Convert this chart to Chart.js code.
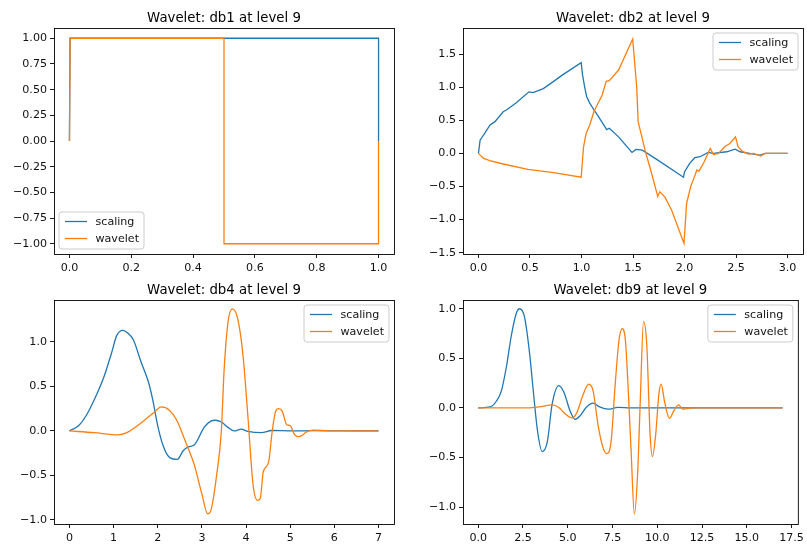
<!DOCTYPE html>
<html><head><meta charset="utf-8">
<script src="https://cdn.jsdelivr.net/npm/chart.js@4"></script>
<style>
html,body{margin:0;padding:0;background:#fff;}
body{width:807px;height:545px;position:relative;overflow:hidden;}
canvas{position:absolute;}
</style></head><body>
<canvas id="c1" width="400" height="272" style="left:0;top:0;width:400px;height:272px"></canvas>
<canvas id="c2" width="407" height="272" style="left:400px;top:0;width:407px;height:272px"></canvas>
<canvas id="c3" width="400" height="273" style="left:0;top:272px;width:400px;height:273px"></canvas>
<canvas id="c4" width="407" height="273" style="left:400px;top:272px;width:407px;height:273px"></canvas>
<script>
// ---------- data (x, y) ----------
const seriesNames = ["scaling", "wavelet"];
const titles = ["Wavelet: db1 at level 9", "Wavelet: db2 at level 9", "Wavelet: db4 at level 9", "Wavelet: db9 at level 9"];

const db1Scaling = [[0,0],[0.002,1],[1,1],[1,0]];
const db1Wavelet = [[0,0],[0.002,1],[0.5,1],[0.5,-1],[1,-1],[1,0]];

const db2Scaling = [[0,0],[0.016,0.2],[0.055,0.29],[0.113,0.43],[0.16,0.48],[0.24,0.63],[0.275,0.66],[0.37,0.77],[0.49,0.93],[0.53,0.92],[0.63,0.98],[0.74,1.10],[0.82,1.19],[0.997,1.37],[1.01,1.19],[1.03,1.01],[1.05,0.86],[1.08,0.76],[1.12,0.66],[1.165,0.555],[1.245,0.36],[1.27,0.38],[1.36,0.25],[1.49,0.015],[1.53,0.06],[1.59,0.05],[1.73,-0.09],[1.99,-0.36],[2.0,-0.28],[2.05,-0.15],[2.1,-0.065],[2.15,-0.05],[2.23,0.015],[2.28,0],[2.41,0.025],[2.49,0.065],[2.54,0.025],[2.63,0],[2.73,-0.025],[2.79,0],[3,0]];
const db2Wavelet = [[0,0],[0.05,-0.076],[0.11,-0.11],[0.24,-0.16],[0.48,-0.24],[0.73,-0.29],[0.997,-0.36],[1.02,0.10],[1.045,0.30],[1.08,0.43],[1.12,0.63],[1.2,0.88],[1.24,1.09],[1.27,1.10],[1.36,1.26],[1.497,1.73],[1.536,1.0],[1.55,0.48],[1.62,0.03],[1.68,-0.30],[1.74,-0.65],[1.76,-0.58],[1.81,-0.66],[1.875,-0.86],[1.995,-1.36],[2.02,-0.76],[2.06,-0.50],[2.085,-0.40],[2.12,-0.25],[2.14,-0.27],[2.19,-0.13],[2.25,0.076],[2.28,-0.015],[2.33,0],[2.39,0.10],[2.44,0.15],[2.495,0.25],[2.52,0.10],[2.56,0.035],[2.62,-0.01],[2.67,0],[2.74,-0.04],[2.78,0],[3,0]];

const db4Scaling = [[0,0],[0.21,0.06],[0.40,0.19],[0.59,0.38],[0.79,0.62],[0.95,0.87],[1.07,1.07],[1.21,1.13],[1.34,1.09],[1.45,1.02],[1.61,0.79],[1.80,0.53],[1.89,0.34],[1.99,0.08],[2.11,-0.15],[2.27,-0.30],[2.44,-0.32],[2.58,-0.22],[2.69,-0.18],[2.83,-0.155],[3.05,0.04],[3.2,0.11],[3.31,0.12],[3.44,0.10],[3.59,0.04],[3.73,0],[3.89,0.02],[4.04,-0.005],[4.35,-0.02],[4.58,0.005],[5.05,0],[5.5,0.003],[7,0]];
const db4Wavelet = [[0,0],[0.56,-0.02],[1.1,-0.045],[1.3,-0.02],[1.65,0.1],[1.92,0.21],[2.08,0.27],[2.27,0.23],[2.43,0.12],[2.62,-0.11],[2.82,-0.37],[3.0,-0.71],[3.13,-0.93],[3.21,-0.88],[3.34,-0.47],[3.44,0],[3.5,0.66],[3.59,1.22],[3.69,1.37],[3.81,1.26],[3.93,0.85],[4.04,0.17],[4.16,-0.61],[4.26,-0.78],[4.32,-0.76],[4.39,-0.46],[4.51,-0.35],[4.59,-0.01],[4.67,0.22],[4.74,0.25],[4.82,0.22],[4.92,0.07],[5.0,0.06],[5.09,-0.035],[5.18,-0.065],[5.27,-0.05],[5.37,-0.01],[5.52,0.01],[5.9,0],[7,0]];

const db9Scaling = [[0,0],[0.66,0.01],[1.02,0.07],[1.29,0.17],[1.57,0.41],[1.84,0.72],[2.12,0.95],[2.3,1.0],[2.58,0.92],[2.85,0.58],[3.13,0.07],[3.31,-0.23],[3.57,-0.44],[3.86,-0.34],[4.13,0.04],[4.5,0.225],[4.78,0.16],[5.13,-0.03],[5.41,-0.115],[5.68,-0.08],[6.05,0.01],[6.42,0.048],[6.78,0.01],[7.26,-0.013],[7.8,0.005],[8.5,0],[17,0]];
const db9Wavelet = [[0,0],[2.85,0],[3.4,0.01],[4.13,0.03],[4.5,0.005],[4.86,-0.06],[5.23,-0.10],[5.5,-0.05],[5.87,0.14],[6.17,0.24],[6.42,0.17],[6.69,-0.17],[6.97,-0.40],[7.18,-0.46],[7.42,-0.34],[7.65,0.24],[7.86,0.68],[8.04,0.80],[8.22,0.68],[8.4,0.1],[8.54,-0.44],[8.72,-1.07],[8.9,-0.67],[9.05,0.07],[9.23,0.87],[9.41,0.65],[9.6,-0.27],[9.73,-0.49],[9.91,-0.27],[10.09,0.14],[10.22,0.24],[10.4,0.07],[10.68,-0.105],[10.92,-0.03],[11.19,0.03],[11.43,-0.013],[11.74,-0.003],[12.01,0],[17,0]];

// ---------- ticks ----------
const xTicks1 = [0,0.2,0.4,0.6,0.8,1.0];
const xLabels1 = ["0.0","0.2","0.4","0.6","0.8","1.0"];
const yTicks1 = [-1,-0.75,-0.5,-0.25,0,0.25,0.5,0.75,1];
const yLabels1 = ["\u22121.00","\u22120.75","\u22120.50","\u22120.25","0.00","0.25","0.50","0.75","1.00"];

const xTicks2 = [0,0.5,1,1.5,2,2.5,3];
const xLabels2 = ["0.0","0.5","1.0","1.5","2.0","2.5","3.0"];
const yTicks2 = [-1.5,-1,-0.5,0,0.5,1,1.5];
const yLabels2 = ["\u22121.5","\u22121.0","\u22120.5","0.0","0.5","1.0","1.5"];

const xTicks3 = [0,1,2,3,4,5,6,7];
const xLabels3 = ["0","1","2","3","4","5","6","7"];
const yTicks3 = [-1,-0.5,0,0.5,1];
const yLabels3 = ["\u22121.0","\u22120.5","0.0","0.5","1.0"];

const xTicks4 = [0,2.5,5,7.5,10,12.5,15,17.5];
const xLabels4 = ["0.0","2.5","5.0","7.5","10.0","12.5","15.0","17.5"];
const yTicks4 = [-1,-0.5,0,0.5,1];
const yLabels4 = ["\u22121.0","\u22120.5","0.0","0.5","1.0"];

// ---------- panels ----------
const panels = [
  {id:"c1", title:titles[0], s:db1Scaling, w:db1Wavelet, xt:xTicks1, xl:xLabels1, yt:yTicks1, yl:yLabels1,
   xr:[-0.05,1.05], yr:[-1.1,1.1], area:{left:54,top:28,right:6,bottom:18}, legend:"ll", smooth:false},
  {id:"c2", title:titles[1], s:db2Scaling, w:db2Wavelet, xt:xTicks2, xl:xLabels2, yt:yTicks2, yl:yLabels2,
   xr:[-0.15,3.15], yr:[-1.52,1.895], area:{left:63,top:28,right:4,bottom:18}, legend:"ur", smooth:false},
  {id:"c3", title:titles[2], s:db4Scaling, w:db4Wavelet, xt:xTicks3, xl:xLabels3, yt:yTicks3, yl:yLabels3,
   xr:[-0.35,7.35], yr:[-1.045,1.47], area:{left:54,top:28,right:6,bottom:21}, legend:"ur", smooth:true},
  {id:"c4", title:titles[3], s:db9Scaling, w:db9Wavelet, xt:xTicks4, xl:xLabels4, yt:yTicks4, yl:yLabels4,
   xr:[-0.85,17.85], yr:[-1.17,1.088], area:{left:63,top:28,right:4,bottom:21}, legend:"ur", smooth:true}
];

const COLORS = ["#1f77b4", "#ff7f0e"];
const FONT = '"DejaVu Sans", sans-serif';
const TICK_PX = 11.1, TITLE_PX = 13.3;

const framePlugin = {
  id: "frame",
  afterDraw(chart, args, o) {
    const a = chart.chartArea, ctx = chart.ctx;
    ctx.save();
    ctx.strokeStyle = "#000"; ctx.lineWidth = 0.9;
    ctx.strokeRect(a.left + 0.5, a.top + 0.5, a.right - a.left, a.bottom - a.top);
    ctx.fillStyle = "#000";
    ctx.font = TITLE_PX + "px " + FONT;
    ctx.textAlign = "center"; ctx.textBaseline = "alphabetic";
    ctx.fillText(o.title, (a.left + a.right) / 2, a.top - 6.5);
    // legend
    const w = 85, h = 37;
    const bx = o.legend === "ll" ? a.left + 5 : a.right - 5 - w;
    const by = o.legend === "ll" ? a.bottom - 5 - h : a.top + 5;
    const r = 3;
    ctx.beginPath();
    ctx.moveTo(bx + r, by); ctx.lineTo(bx + w - r, by); ctx.arcTo(bx + w, by, bx + w, by + r, r);
    ctx.lineTo(bx + w, by + h - r); ctx.arcTo(bx + w, by + h, bx + w - r, by + h, r);
    ctx.lineTo(bx + r, by + h); ctx.arcTo(bx, by + h, bx, by + h - r, r);
    ctx.lineTo(bx, by + r); ctx.arcTo(bx, by, bx + r, by, r);
    ctx.closePath();
    ctx.fillStyle = "rgba(255,255,255,0.8)"; ctx.fill();
    ctx.strokeStyle = "#cccccc"; ctx.lineWidth = 1; ctx.stroke();
    ctx.font = TICK_PX + "px " + FONT; ctx.textAlign = "left"; ctx.textBaseline = "middle";
    seriesNames.forEach((n, i) => {
      const y = by + 9.5 + i * 17;
      ctx.strokeStyle = COLORS[i]; ctx.lineWidth = 1.3;
      ctx.beginPath(); ctx.moveTo(bx + 6, y); ctx.lineTo(bx + 28, y); ctx.stroke();
      ctx.fillStyle = "#111"; ctx.fillText(n, bx + 36.5, y + 0.5);
    });
    ctx.restore();
  }
};

function toXY(arr) { return arr.map(p => ({x: p[0], y: p[1]})); }

panels.forEach(p => {
  const ds = (data, i) => ({
    label: seriesNames[i], data: toXY(data), borderColor: COLORS[i], backgroundColor: COLORS[i],
    borderWidth: 1.3, pointRadius: 0, fill: false, order: 1 - i,
    tension: p.smooth ? 0.4 : 0, cubicInterpolationMode: p.smooth ? "monotone" : "default"
  });
  const scaleCommon = (ticks, labels) => ({
    type: "linear",
    grid: {display: true, drawOnChartArea: false, drawTicks: true, tickLength: 4, tickWidth: 0.9, tickColor: "#000"},
    border: {display: false},
    ticks: {color: "#111", font: {family: FONT, size: TICK_PX}, padding: 3, maxRotation: 0, autoSkip: false,
            callback: (v) => { const k = ticks.findIndex(t => Math.abs(t - v) < 1e-9); return k >= 0 ? labels[k] : ""; }},
    afterBuildTicks: (sc) => { sc.ticks = ticks.map(v => ({value: v})); }
  });
  const xs = scaleCommon(p.xt, p.xl); xs.min = p.xr[0]; xs.max = p.xr[1]; xs.position = "bottom";
  xs.afterFit = (sc) => { sc.height = p.area.bottom; };
  const ys = scaleCommon(p.yt, p.yl); ys.min = p.yr[0]; ys.max = p.yr[1]; ys.position = "left";
  ys.afterFit = (sc) => { sc.width = p.area.left; };
  new Chart(document.getElementById(p.id), {
    type: "line",
    data: {datasets: [ds(p.s, 0), ds(p.w, 1)]},
    options: {
      responsive: false, animation: false, events: [],
      layout: {padding: {top: p.area.top, right: p.area.right, left: 0, bottom: 0}},
      scales: {x: xs, y: ys},
      plugins: {legend: {display: false}, tooltip: {enabled: false}, title: {display: false},
                frame: {title: p.title, legend: p.legend}}
    },
    plugins: [framePlugin]
  });
});
</script>
</body></html>
